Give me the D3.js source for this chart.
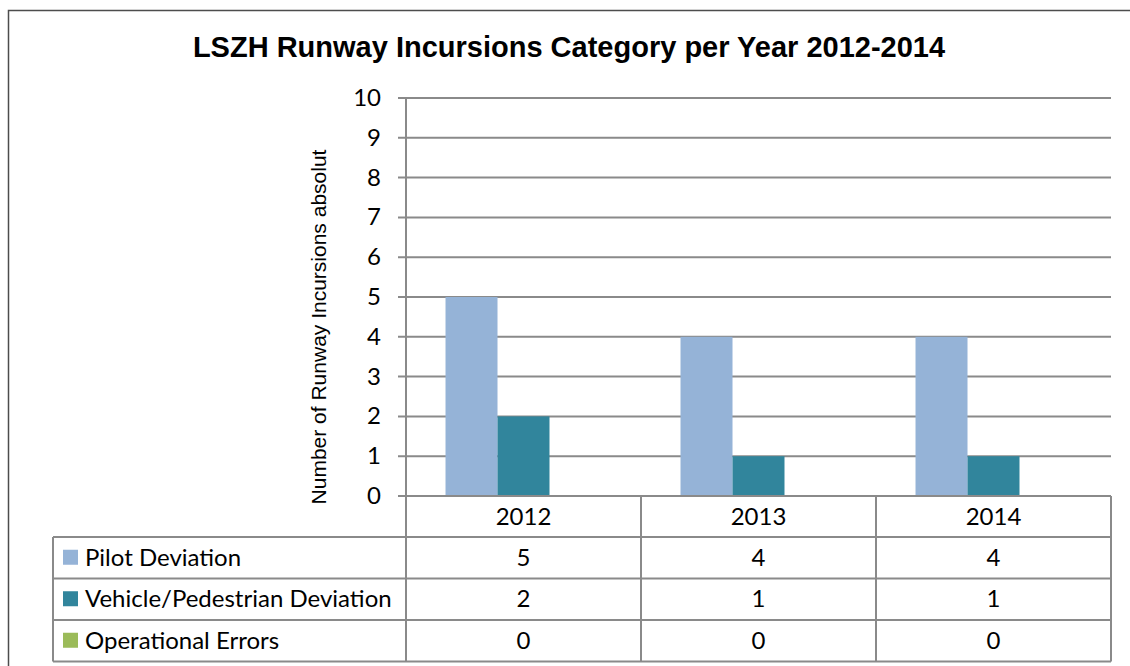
<!DOCTYPE html>
<html>
<head>
  <meta charset="utf-8">
  <title>LSZH Runway Incursions</title>
  <script src="https://d3js.org/d3.v7.min.js"></script>
  <style>
    body { margin: 0; padding: 0; background: white; }
    svg { display: block; }
    .tbl text { font-family: Lato, "Open Sans", sans-serif; font-size: 24px; fill: #000; }
    .tick-label { font-family: Lato, "Open Sans", sans-serif; font-size: 24px; fill: #000; }
  </style>
</head>
<body>
<div id="chart"></div>
<script>
// data
var years = ["2012", "2013", "2014"];
var seriesNames = ["Pilot Deviation", "Vehicle/Pedestrian Deviation", "Operational Errors"];
var pilotDeviation = [5, 4, 4];
var vehiclePedestrian = [2, 1, 1];
var operationalErrors = [0, 0, 0];
var yTicks = [0, 1, 2, 3, 4, 5, 6, 7, 8, 9, 10];
var colors = ["#95B3D7", "#31859C", "#9BBB59"];

var series = [pilotDeviation, vehiclePedestrian, operationalErrors];

var width = 1130, height = 666;
var plotLeft = 406, plotRight = 1111, plotTop = 98, plotBottom = 496;
var rowTops = [537, 578.5, 620, 661.5];
var tableLeft = 53;
var lineCol = "#8a8a8a";

var svg = d3.select("#chart").append("svg")
  .attr("width", width)
  .attr("height", height);

// chart border
svg.append("rect")
  .attr("x", 8.5).attr("y", 10.5)
  .attr("width", 1200).attr("height", 800)
  .attr("fill", "none").attr("stroke", "#4d4d4d").attr("stroke-width", 1.5);

// title
svg.append("text")
  .attr("x", 569).attr("y", 57)
  .attr("text-anchor", "middle")
  .style("font-family", "'Liberation Sans', Arial, sans-serif")
  .style("font-weight", "bold")
  .style("font-size", "29px")
  .text("LSZH Runway Incursions Category per Year 2012-2014");

var y = d3.scaleLinear().domain([0, 10]).range([plotBottom, plotTop]);
var x0 = d3.scaleBand().domain(years).range([plotLeft, plotRight]);
var x1 = d3.scaleBand().domain(d3.range(seriesNames.length))
  .range([0, x0.bandwidth()]).paddingOuter(0.76);

// gridlines
svg.append("g").selectAll("line")
  .data(yTicks.filter(function(d) { return d > 0; }))
  .enter().append("line")
    .attr("x1", plotLeft - 8).attr("x2", plotRight)
    .attr("y1", function(d) { return y(d); })
    .attr("y2", function(d) { return y(d); })
    .attr("stroke", lineCol).attr("stroke-width", 2);

// tick labels
svg.append("g").selectAll("text")
  .data(yTicks)
  .enter().append("text")
    .attr("class", "tick-label")
    .attr("x", 381)
    .attr("y", function(d) { return y(d) + 8; })
    .attr("text-anchor", "end")
    .text(function(d) { return d; });

// axis title
svg.append("text")
  .attr("transform", "translate(326," + 327 + ") rotate(-90)")
  .attr("text-anchor", "middle")
  .style("font-family", "'Liberation Sans', Arial, sans-serif")
  .style("font-size", "21px")
  .text("Number of Runway Incursions absolut");

// bars
var groups = svg.append("g").selectAll("g")
  .data(years)
  .enter().append("g")
    .attr("transform", function(d) { return "translate(" + x0(d) + ",0)"; });

groups.selectAll("rect")
  .data(function(d, i) { return series.map(function(s, k) { return { k: k, v: s[i] }; }); })
  .enter().append("rect")
    .attr("x", function(d) { return x1(d.k); })
    .attr("width", x1.bandwidth())
    .attr("y", function(d) { return y(d.v); })
    .attr("height", function(d) { return y(0) - y(d.v); })
    .attr("fill", function(d) { return colors[d.k]; });

// data table
var tbl = svg.append("g").attr("class", "tbl");

// horizontal lines
tbl.append("line")
  .attr("x1", plotLeft - 8).attr("x2", plotRight)
  .attr("y1", plotBottom).attr("y2", plotBottom)
  .attr("stroke", lineCol).attr("stroke-width", 2);
rowTops.forEach(function(r) {
  tbl.append("line")
    .attr("x1", tableLeft).attr("x2", plotRight)
    .attr("y1", r).attr("y2", r)
    .attr("stroke", lineCol).attr("stroke-width", 2);
});
// vertical lines
tbl.append("line")
  .attr("x1", plotLeft).attr("x2", plotLeft)
  .attr("y1", plotTop).attr("y2", rowTops[3])
  .attr("stroke", lineCol).attr("stroke-width", 2);
tbl.append("line")
  .attr("x1", tableLeft).attr("x2", tableLeft)
  .attr("y1", rowTops[0]).attr("y2", rowTops[3])
  .attr("stroke", lineCol).attr("stroke-width", 2);
years.forEach(function(yr) {
  var xx = x0(yr) + x0.bandwidth();
  tbl.append("line")
    .attr("x1", xx).attr("x2", xx)
    .attr("y1", plotBottom).attr("y2", rowTops[3])
    .attr("stroke", lineCol).attr("stroke-width", 2);
});

// header
tbl.selectAll(".yr")
  .data(years)
  .enter().append("text")
    .attr("x", function(d) { return x0(d) + x0.bandwidth() / 2; })
    .attr("y", (plotBottom + rowTops[0]) / 2 + 8)
    .attr("text-anchor", "middle")
    .text(function(d) { return d; });

// rows
seriesNames.forEach(function(name, k) {
  var cy = (rowTops[k] + rowTops[k + 1]) / 2;
  tbl.append("rect")
    .attr("x", 63).attr("y", cy - 8)
    .attr("width", 15).attr("height", 15)
    .attr("fill", colors[k]);
  tbl.append("text")
    .attr("x", 85).attr("y", cy + 8)
    .text(name);
  tbl.selectAll(".v" + k)
    .data(series[k])
    .enter().append("text")
      .attr("x", function(d, i) { return x0(years[i]) + x0.bandwidth() / 2; })
      .attr("y", cy + 8)
      .attr("text-anchor", "middle")
      .text(function(d) { return d; });
});
</script>
</body>
</html>
